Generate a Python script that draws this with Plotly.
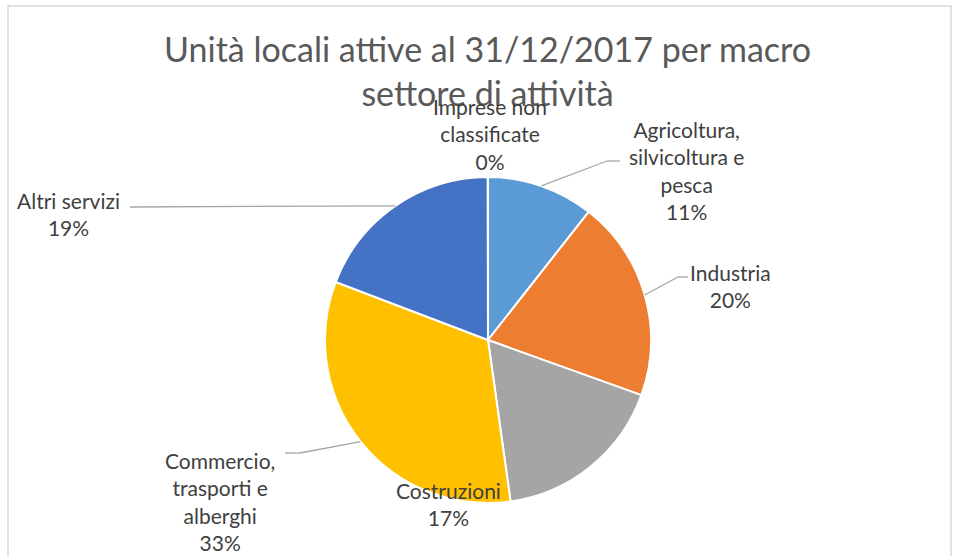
import math
import plotly.graph_objects as go

# dati (percentuali stimate dal grafico)
settori = ["Agricoltura, silvicoltura e pesca", "Industria", "Costruzioni",
           "Commercio, trasporti e alberghi", "Altri servizi", "Imprese non classificate"]
etichette = ["Agricoltura,<br>silvicoltura e<br>pesca", "Industria", "Costruzioni",
             "Commercio,<br>trasporti e<br>alberghi", "Altri servizi", "Imprese non<br>classificate"]
valori = [10.6, 19.9, 17.3, 33.0, 19.2, 0.02]
colori = ["#5B9BD5", "#ED7D31", "#A5A5A5", "#FFC000", "#4472C4", "#70AD47"]

W, H = 956, 556
CX, CY, R = 488, 340, 163

def px(x):
    return x / W

def py(y):
    return 1 - y / H

# posizione etichette (pixel) e gomiti delle linee guida
pos_etichette = [(686, 170), (730, 286), (448, 504), (220, 501), (68, 214), (490, 134)]
gomiti = [[(607, 161), (620, 161)], [(678, 277), (688, 277)], None,
          [(300, 453), (285, 453)], [(130, 207)], None]

fig = go.Figure(go.Pie(
    labels=settori,
    values=valori,
    sort=False,
    direction="clockwise",
    rotation=0,
    marker=dict(colors=colori, line=dict(color="white", width=2)),
    textinfo="none",
    hoverinfo="label+percent",
    domain=dict(x=[px(CX - R), px(CX + R)], y=[py(CY + R), py(CY - R)]),
    showlegend=False,
))

totale = sum(valori)
annotazioni = []
forme = []
cum = 0
for i, v in enumerate(valori):
    perc = v / totale * 100
    mid = (cum + v / 2) / totale * 2 * math.pi
    cum += v
    x0 = CX + R * math.sin(mid)
    y0 = CY - R * math.cos(mid)
    lx, ly = pos_etichette[i]
    annotazioni.append(dict(
        x=px(lx), y=py(ly), xref="paper", yref="paper",
        text=f"{etichette[i]}<br>{round(perc)}%", showarrow=False,
        xanchor="center", yanchor="middle", align="center",
        font=dict(family="Lato, Open Sans, sans-serif", size=21, color="#404040"),
    ))
    if gomiti[i]:
        punti = [(x0, y0)] + gomiti[i]
        for (a, b), (c, d) in zip(punti[:-1], punti[1:]):
            forme.append(dict(type="line", xref="paper", yref="paper",
                              x0=px(a), y0=py(b), x1=px(c), y1=py(d),
                              line=dict(color="#A6A6A6", width=1.3)))

# bordo dell'area grafico
forme.append(dict(type="rect", xref="paper", yref="paper",
                  x0=px(8), y0=py(560), x1=px(951), y1=py(6),
                  line=dict(color="#D9D9D9", width=1.5)))

fig.update_layout(
    title=dict(
        text="Unità locali attive al 31/12/2017 per macro<br>settore di attività",
        x=0.51, xanchor="center", y=py(62), yanchor="top",
        font=dict(family="Lato, Open Sans, sans-serif", size=34, color="#595959"),
    ),
    width=W, height=H,
    margin=dict(l=0, r=0, t=0, b=0),
    paper_bgcolor="white",
    plot_bgcolor="white",
    annotations=annotazioni,
    shapes=forme,
)

# niente margine della pagina, così il grafico parte dall'angolo
fig.write_html("out.html", config={"displayModeBar": False},
               post_script="document.body.style.margin='0';")
